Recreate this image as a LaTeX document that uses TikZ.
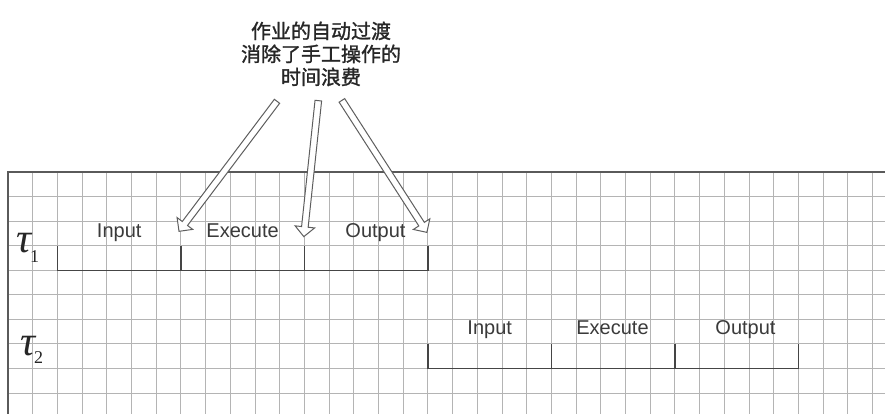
\documentclass[tikz,border=0pt]{standalone}
\usepackage{fontspec}
\setmainfont{Liberation Sans}
\newfontfamily\cjk[FakeBold=1.3]{Noto Sans CJK SC}
\newfontfamily\taufont{Liberation Serif}
\usetikzlibrary{calc,shapes.arrows}
\definecolor{gridc}{HTML}{B4B4B4}
\definecolor{framec}{HTML}{5A5A5A}
\definecolor{boxc}{HTML}{454545}
\definecolor{txtc}{HTML}{3A3A3A}
\definecolor{arrc}{HTML}{5E5E5E}
\tikzset{
  gridline/.style={draw=gridc, line width=0.9pt},
  frameline/.style={draw=framec, line width=1.3pt},
  boxline/.style={draw=boxc, line width=1.3pt},
  seglabel/.style={font=\fontsize{20}{22}\selectfont, text=txtc, inner sep=0pt, anchor=base},
  notetext/.style={font=\cjk\fontsize{20}{23}\selectfont, text=black!85, inner sep=0pt, anchor=base},
  taulabel/.style={text=black!85, inner sep=0pt, anchor=base west},
  hollowarrow/.style={single arrow, draw=arrc, fill=white, line width=1pt,
    inner sep=0pt, inner ysep=2.8pt, minimum width=0pt,
    single arrow head extend=6.5pt, single arrow tip angle=90, single arrow head indent=0pt}
}
\begin{document}
\begin{tikzpicture}[x=1pt,y=-1pt]
\useasboundingbox (0,0) rectangle (885,414);
\fill[white] (0,0) rectangle (885,414);
\begin{scope}
\clip (0,0) rectangle (885,414);
% grid
\foreach \k in {1,...,35} \draw[gridline] ({8+\k*24.7},172) -- ({8+\k*24.7},414);
\foreach \k in {1,...,9} \draw[gridline] (8,{172+\k*24.55}) -- (885,{172+\k*24.55});
\draw[frameline] (8,414) -- (8,172) -- (885,172);
\end{scope}

% task 1 timeline
\draw[boxline] (57.4,246) -- (57.4,270.6) -- (428,270.6) -- (428,246);
\draw[boxline] (180.9,246) -- (180.9,270.6);
\draw[boxline] (304.4,246) -- (304.4,270.6);
% task 2 timeline
\draw[boxline] (428,344) -- (428,368.6) -- (798.4,368.6) -- (798.4,344);
\draw[boxline] (551.4,344) -- (551.4,368.6);
\draw[boxline] (674.9,344) -- (674.9,368.6);

% segment labels
\node[seglabel] (in1) at (119.2,237) {Input};
\node[seglabel] (ex1) at (242.6,237) {Execute};
\node[seglabel] (out1) at (375.5,237) {Output};
\node[seglabel] (in2) at (489.7,334.5) {Input};
\node[seglabel] (ex2) at (612.5,334.5) {Execute};
\node[seglabel] (out2) at (745.5,334.5) {Output};

% tau labels
\node[taulabel] (tau1) at (16,252) {\fontsize{42}{42}\selectfont\taufont\itshape τ\kern-1pt\raisebox{-10pt}{\fontsize{18}{18}\selectfont\upshape 1}};
\node[taulabel] (tau2) at (20,355) {\fontsize{42}{42}\selectfont\taufont\itshape τ\kern-1pt\raisebox{-8pt}{\fontsize{18}{18}\selectfont\upshape 2}};

% note
\node[notetext] (note1) at (321,38.5) {作业的自动过渡};
\node[notetext] (note2) at (321,61.5) {消除了手工操作的};
\node[notetext] (note3) at (321,84.5) {时间浪费};

% arrow endpoints
\coordinate (s1) at (278,100);
\coordinate (t1) at (180,230);
\coordinate (s2) at (318.5,99);
\coordinate (t2) at (304,235);
\coordinate (s3) at (341,99);
\coordinate (t3) at (426,231);

\foreach \i in {1,2,3}{
  \path let \p1=($(t\i)-(s\i)$), \n1={atan2(\y1,\x1)}, \n2={veclen(\x1,\y1)} in
    node[hollowarrow, rotate=\n1, minimum height=\n2] (arr\i) at ($(s\i)!0.5!(t\i)$) {};
}
\end{tikzpicture}
\end{document}
